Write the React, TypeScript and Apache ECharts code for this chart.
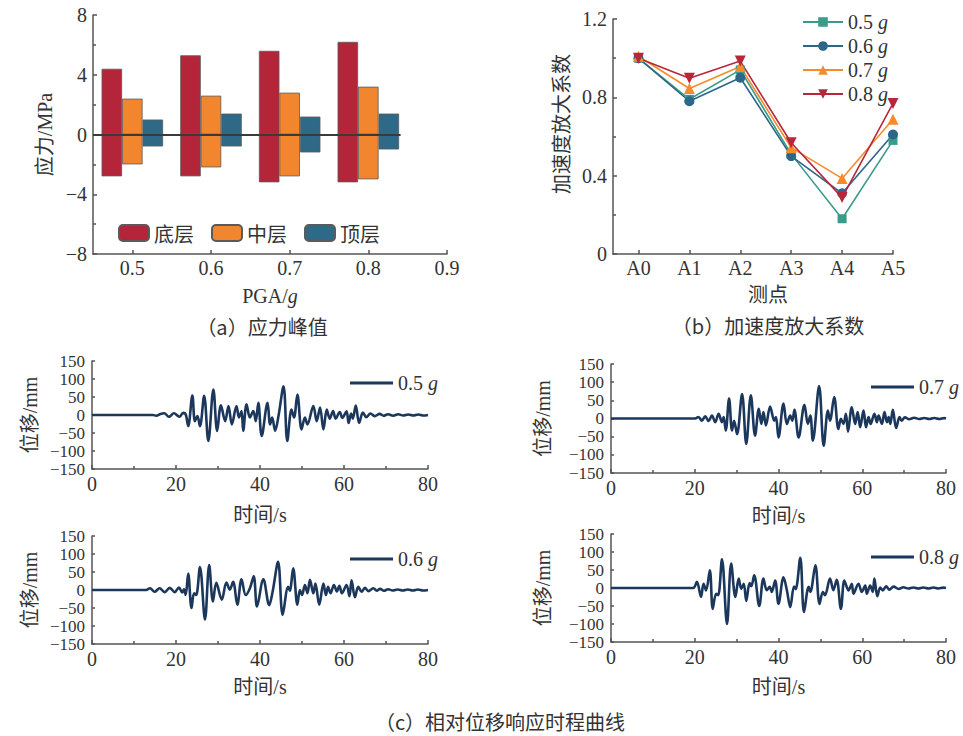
import React, { useEffect, useRef } from 'react';
import * as echarts from 'echarts';

// ---------- (a) stress peaks ----------
const pgaLevels = [0.5, 0.6, 0.7, 0.8];
const pgaTicks = [0.5, 0.6, 0.7, 0.8, 0.9];
const layerNames = ['底层', '中层', '顶层'];
const bottomMax = [4.4, 5.3, 5.6, 6.2];
const bottomMin = [-2.8, -2.8, -3.2, -3.2];
const middleMax = [2.4, 2.6, 2.8, 3.2];
const middleMin = [-2.0, -2.2, -2.8, -3.0];
const topMax = [1.0, 1.4, 1.2, 1.4];
const topMin = [-0.8, -0.8, -1.2, -1.0];

// ---------- (b) acceleration amplification ----------
const points = ['A0', 'A1', 'A2', 'A3', 'A4', 'A5'];
const amp05 = [1.0, 0.79, 0.94, 0.51, 0.18, 0.58];
const amp06 = [1.0, 0.78, 0.9, 0.5, 0.31, 0.61];
const amp07 = [1.01, 0.845, 0.957, 0.543, 0.386, 0.688];
const amp08 = [1.0, 0.897, 0.985, 0.568, 0.288, 0.769];

// ---------- (c) displacement time histories [t(s), mm] ----------
const disp05 = [
  [0, 0], [14.5, 0], [15.3, -2], [16.3, 3], [17.2, 5], [18.3, -5], [19.5, 5], [20.8, -5], [21.7, 6], [22.3, 2],
  [22.9, -31], [23.9, 54], [24.5, -17], [25.1, -3], [25.7, -31], [26.7, 53], [27.7, -72], [28.9, 71], [29.8, -44],
  [30.7, 27], [31.7, -17], [32.5, 25], [33.3, -26], [34.4, 25], [35.0, -7], [35.6, 11], [36.0, -44], [36.8, 30],
  [37.6, -7], [38.4, 11], [39.0, -17], [39.6, 34], [40.4, -58], [41.8, 34], [42.4, -26], [42.9, -7], [43.6, -44],
  [44.4, -3], [45.6, 80], [46.5, -72], [47.5, 15], [48.1, -7], [48.9, 57], [49.9, -40], [50.7, -7], [51.3, -26],
  [52.7, 25], [53.5, -17], [54.3, 21], [55.1, -40], [55.9, 15], [56.6, -10], [57.4, 11], [58.0, -10], [59.0, 8],
  [59.6, -8], [60.6, 10], [61.1, -22], [61.7, 4], [62.1, -10], [62.8, 26], [63.6, -22], [64.5, 7], [65.3, -6],
  [66.3, 4], [67.3, -3], [68.5, 3], [69.4, -2], [70.5, 2], [71.7, -2], [72.9, 2], [74.1, -1.5], [75.3, 1.5],
  [76.5, -1.5], [77.7, 1.5], [78.9, -1.5], [80, 0],
];
const disp06 = [
  [0, 0], [12.9, 0], [13.8, 5], [14.9, -5], [16.1, 5], [17.3, -6], [18.5, 6], [19.7, -6], [20.7, 7], [21.5, -7],
  [21.9, 2], [22.3, -14], [22.9, 46], [23.7, -50], [24.3, -9], [24.8, -14], [25.7, 64], [26.9, -82], [27.9, 69],
  [28.8, -32], [29.6, 20], [30.9, -27], [32.0, 21], [32.8, 1], [33.6, 23], [34.6, -41], [35.6, 30], [36.6, -14],
  [37.6, 5], [38.5, 38], [39.3, -46], [40.8, 30], [42.2, -42], [43.0, -5], [44.3, 78], [45.4, -69], [46.7, 9],
  [47.1, -2], [47.9, 60], [48.9, -41], [49.5, 0], [50.0, -14], [50.7, 14], [51.3, -9], [51.9, 28], [52.7, -9],
  [53.2, 18], [54.1, -41], [55.1, 18], [55.7, -14], [56.2, 9], [56.8, -9], [57.6, 14], [58.3, -4], [58.9, 12],
  [59.5, -9], [60.6, 14], [61.3, -17], [61.8, 27], [62.6, -20], [63.4, 9], [64.2, -5], [65.0, 6], [65.8, -3],
  [67.0, 5], [67.8, -2], [68.6, 3], [69.5, -2], [70.5, 2], [71.6, -1.5], [72.8, 1.5], [74.0, -1.5], [75.2, 1.5],
  [76.4, -1.5], [77.6, 1.5], [78.8, -1.5], [80, 0],
];
const disp07 = [
  [0, 0], [20.1, 0], [20.9, 4], [21.7, -6], [22.5, 6], [23.3, -7], [24.1, 8], [24.9, -10], [25.7, 13], [26.5, -10],
  [26.9, 4], [27.4, -33], [28.2, 55], [28.9, -33], [29.4, -6], [30.1, -43], [31.3, 67], [32.3, -70], [33.4, 64],
  [34.4, -47], [35.3, 27], [35.9, -15], [36.4, 18], [37.0, -19], [38.0, 33], [39.0, -6], [39.4, 4], [40.0, -52],
  [41.2, 41], [42.0, -15], [42.8, 8], [43.3, -6], [43.8, 24], [44.8, -52], [46.2, 38], [47.0, -15], [47.6, 8],
  [48.2, -61], [49.7, 89], [50.8, -75], [51.8, 22], [52.3, -6], [53.3, 59], [54.3, -29], [54.9, -1], [55.5, -15],
  [56.1, 13], [56.6, -36], [57.5, 31], [58.3, -15], [58.9, 18], [59.5, -24], [60.3, 22], [60.9, -24], [61.5, 4],
  [62.0, -15], [62.9, 13], [63.5, -10], [63.9, 8], [64.7, -15], [65.3, 18], [65.9, -10], [66.3, 4], [66.7, -15],
  [67.3, 24], [68.1, -26], [68.9, 4], [69.4, -6], [70.2, 3], [71.2, -2], [72.4, 2], [73.6, -1.5], [74.8, 1.5],
  [76.0, -1.5], [77.2, 1.5], [78.4, -1.5], [79.6, 1], [80, 0],
];
const disp08 = [
  [0, 0], [19.6, 0], [20.5, 17], [21.5, -25], [22.1, 12], [22.7, -7], [23.6, 49], [24.3, -58], [25.1, -16],
  [25.6, -20], [26.5, 80], [27.7, -100], [28.7, 68], [29.7, -25], [30.5, 26], [31.1, -2], [31.7, 12], [32.3, -36],
  [33.1, 14], [33.5, 5], [34.2, 35], [35.4, -50], [36.4, 26], [37.2, -6], [37.9, 3], [38.4, -11], [39.2, 21],
  [40.0, -44], [41.2, 30], [42.0, -6], [42.8, -53], [43.7, 4], [44.1, -3], [45.2, 84], [46.1, -67], [47.2, 3],
  [47.6, -11], [48.8, 63], [49.8, -44], [50.6, -11], [51.1, -20], [52.3, 26], [53.1, -6], [53.9, 23], [54.9, -58],
  [55.7, 21], [56.3, 3], [56.7, -6.5], [57.5, 12], [57.9, -16], [59.1, 12], [59.9, -11], [60.7, 7], [61.1, -16],
  [61.9, 7], [62.5, -11], [62.9, 26], [63.6, -23], [64.3, 1], [64.9, -6.5], [65.7, 4.6], [66.5, -4.6], [67.5, 3.7],
  [68.7, -2.8], [69.8, 2], [71.0, -1.5], [72.2, 1.5], [73.4, -1.5], [74.6, 1.5], [75.8, -1.5], [77.0, 1.5],
  [78.2, -1.5], [79.4, 1], [80, 0],
];

const SERIF = "'Liberation Serif', 'Times New Roman', 'Noto Sans CJK SC', serif";
const CJK = "'Noto Sans CJK SC', sans-serif";
const TXT = '#333';
const AXIS = { color: '#555', width: 1.5 };
const NAVY = '#1C375C';
const minus = (v: number) => String(v).replace('-', '\u2212');

const layerColors = ['#B5253A', '#F2862F', '#2E6A87'];
const ampColors = ['#3A9B8B', '#2D6787', '#F68B2C', '#B8263B'];

function timeAxes(gi: number, xGap: number, yGap: number) {
  const x = {
    type: 'value', gridIndex: gi, min: 0, max: 80, interval: 20,
    axisLine: { show: true, onZero: false, lineStyle: AXIS },
    axisTick: { show: true, inside: true, length: 4, lineStyle: AXIS },
    minorTick: { show: true, splitNumber: 2, length: 3, lineStyle: AXIS },
    axisLabel: { margin: 5, fontSize: 20, color: TXT, fontFamily: SERIF, showMinLabel: true, showMaxLabel: true },
    splitLine: { show: false },
    name: '时间/s', nameLocation: 'middle', nameGap: xGap,
    nameTextStyle: { fontSize: 20, color: TXT, fontFamily: SERIF },
  };
  const y = {
    type: 'value', gridIndex: gi, min: -150, max: 150, interval: 50,
    axisLine: { show: true, onZero: false, lineStyle: AXIS },
    axisTick: { show: true, inside: true, length: 3, lineStyle: AXIS },
    axisLabel: {
      margin: 7, fontSize: 17, lineHeight: 17, color: TXT, fontFamily: SERIF, formatter: minus,
      showMinLabel: true, showMaxLabel: true, hideOverlap: false,
    },
    splitLine: { show: false },
    name: '位移/mm', nameLocation: 'middle', nameGap: yGap,
    nameTextStyle: { fontSize: 20, color: TXT, fontFamily: SERIF },
  };
  return { x, y };
}

function buildOption() {
  const grids = [
    { left: 93, top: 15, width: 354, height: 239 },
    { left: 613, top: 19, width: 280, height: 235 },
    { left: 92, top: 361, width: 336, height: 108 },
    { left: 611, top: 364, width: 335, height: 109 },
    { left: 92, top: 536, width: 336, height: 108 },
    { left: 611, top: 534, width: 335, height: 108 },
  ];

  const xAxes: any[] = [];
  const yAxes: any[] = [];

  // (a)
  xAxes.push({
    type: 'value', gridIndex: 0, min: 0.45, max: 0.9,
    axisLine: { show: true, onZero: false, lineStyle: AXIS },
    axisTick: { show: true, inside: true, length: 4, customValues: pgaTicks, lineStyle: AXIS },
    axisLabel: { customValues: pgaTicks, formatter: (v: number) => v.toFixed(1), margin: 4, fontSize: 20, color: TXT, fontFamily: SERIF },
    splitLine: { show: false },
    name: 'PGA/{i|g}', nameLocation: 'middle', nameGap: 32,
    nameTextStyle: { fontSize: 20, color: TXT, fontFamily: SERIF, rich: { i: { fontSize: 20, fontStyle: 'italic', fontFamily: SERIF, color: TXT } } },
  });
  yAxes.push({
    type: 'value', gridIndex: 0, min: -8, max: 8, interval: 4,
    axisLine: { show: true, onZero: false, lineStyle: AXIS },
    axisTick: { show: true, inside: true, length: 4, lineStyle: AXIS },
    minorTick: { show: true, splitNumber: 2, length: 3, lineStyle: AXIS },
    axisLabel: { margin: 6, fontSize: 20, color: TXT, fontFamily: SERIF, formatter: minus },
    splitLine: { show: false },
    name: '应力/MPa', nameLocation: 'middle', nameGap: 38,
    nameTextStyle: { fontSize: 20, color: TXT, fontFamily: SERIF },
  });

  // (b)
  xAxes.push({
    type: 'value', gridIndex: 1, min: -0.5, max: 5,
    axisLine: { show: true, onZero: false, lineStyle: AXIS },
    axisTick: { show: true, inside: true, length: 4, customValues: [0, 1, 2, 3, 4, 5], lineStyle: AXIS },
    axisLabel: { customValues: [0, 1, 2, 3, 4, 5], formatter: (v: number) => points[Math.round(v)], margin: 4, fontSize: 20, color: TXT, fontFamily: SERIF },
    splitLine: { show: false },
  });
  yAxes.push({
    type: 'value', gridIndex: 1, min: 0, max: 1.2, interval: 0.4,
    axisLine: { show: true, onZero: false, lineStyle: AXIS },
    axisTick: { show: true, inside: true, length: 4, lineStyle: AXIS },
    minorTick: { show: true, splitNumber: 2, length: 3, lineStyle: AXIS },
    axisLabel: { margin: 6, fontSize: 20, color: TXT, fontFamily: SERIF, formatter: (v: number) => (v === 0 ? '0' : v.toFixed(1)) },
    splitLine: { show: false },
  });

  // (c)
  const c1 = timeAxes(2, 36, 52);
  const c2 = timeAxes(3, 33, 58);
  const c3 = timeAxes(4, 33, 52);
  const c4 = timeAxes(5, 35, 58);
  [c1, c2, c3, c4].forEach((c) => { xAxes.push(c.x); yAxes.push(c.y); });

  const series: any[] = [];
  const layerData = [[bottomMax, bottomMin], [middleMax, middleMin], [topMax, topMin]];
  layerData.forEach((pair, i) => {
    pair.forEach((arr, k) => {
      series.push({
        type: 'bar', name: layerNames[i], xAxisIndex: 0, yAxisIndex: 0,
        stack: 'layer' + i, barWidth: 20.5, barGap: '0%',
        itemStyle: { color: layerColors[i], borderColor: '#5a5a5a', borderWidth: 0.8 },
        data: pgaLevels.map((x, j) => [x, arr[j]]),
        ...(i === 1 && k === 1
          ? {
              markLine: {
                silent: true, symbol: 'none', label: { show: false }, z: 10,
                lineStyle: { color: '#3a3a3a', width: 2, type: 'solid' },
                data: [[{ coord: [0.45, 0] }, { coord: [0.841, 0] }]],
              },
            }
          : {}),
      });
    });
  });

  const ampSets = [amp05, amp06, amp07, amp08];
  const ampNames = ['b0.5', 'b0.6', 'b0.7', 'b0.8'];
  const ampSymbols = ['rect', 'circle', 'triangle', 'triangle'];
  const ampSizes = [9, 10, 11, 11];
  ampSets.forEach((arr, i) => {
    series.push({
      type: 'line', name: ampNames[i], xAxisIndex: 1, yAxisIndex: 1,
      symbol: ampSymbols[i], symbolSize: ampSizes[i], symbolRotate: i === 3 ? 180 : 0,
      showSymbol: true,
      lineStyle: { width: 1.6, color: ampColors[i] },
      itemStyle: { color: ampColors[i] },
      data: arr.map((v, k) => [k, v]),
    });
  });

  const dispSets = [disp05, disp07, disp06, disp08];
  const dispNames = ['c0.5', 'c0.7', 'c0.6', 'c0.8'];
  dispSets.forEach((arr, i) => {
    series.push({
      type: 'line', name: dispNames[i], xAxisIndex: 2 + i, yAxisIndex: 2 + i,
      symbol: 'none', showSymbol: false, smooth: 0.35,
      lineStyle: { width: 2.6, color: NAVY },
      itemStyle: { color: NAVY },
      data: arr,
    });
  });

  const gFmt = (n: string) => n.slice(1) + ' {g|g}';
  const legText = {
    fontSize: 20, color: TXT, fontFamily: SERIF, lineHeight: 22,
    rich: { g: { fontSize: 20, fontStyle: 'italic', fontFamily: SERIF, color: TXT, lineHeight: 22 } },
  };
  const cLegend = (name: string, left: number, top: number) => ({
    data: [name], left, top, padding: 0, itemWidth: 43, itemHeight: 3, icon: 'rect',
    formatter: gFmt, textStyle: legText, selectedMode: false, itemStyle: { color: NAVY },
  });

  const legends = [
    {
      data: layerNames, left: 118, top: 223, padding: 0, itemWidth: 30, itemHeight: 16, itemGap: 17,
      textStyle: { fontSize: 20, color: TXT, fontFamily: CJK }, selectedMode: false,
    },
    {
      data: ampNames, orient: 'vertical', left: 802, top: 11, padding: 0, itemWidth: 40, itemHeight: 12, itemGap: 2,
      formatter: gFmt, textStyle: legText, selectedMode: false,
    },
    cLegend('c0.5', 350, 372),
    cLegend('c0.7', 871, 376),
    cLegend('c0.6', 350, 548),
    cLegend('c0.8', 871, 546),
  ];

  const captionStyle = { fontSize: 20, fill: TXT, fontFamily: CJK, align: 'center', verticalAlign: 'middle' };
  const graphic = [
    { type: 'text', x: 262, y: 326, style: { ...captionStyle, text: '（a）应力峰值' } },
    { type: 'text', x: 768, y: 325, style: { ...captionStyle, text: '（b）加速度放大系数' } },
    { type: 'text', x: 500, y: 721, style: { ...captionStyle, text: '（c）相对位移响应时程曲线' } },
    { type: 'text', x: 768, y: 295, style: { ...captionStyle, fontFamily: SERIF, text: '测点' } },
    { type: 'text', x: 562, y: 124, rotation: Math.PI / 2, style: { ...captionStyle, fontFamily: SERIF, text: '加速度放大系数' } },
  ];

  return {
    animation: false,
    backgroundColor: '#fff',
    grid: grids,
    xAxis: xAxes,
    yAxis: yAxes,
    legend: legends,
    series,
    graphic,
  };
}

export default function App() {
  const ref = useRef<HTMLDivElement>(null);
  useEffect(() => {
    if (!ref.current) return;
    const chart = echarts.init(ref.current, null, { renderer: 'svg' });
    chart.setOption(buildOption() as any);
    return () => chart.dispose();
  }, []);
  return (
    <div
      ref={ref}
      style={{ position: 'fixed', left: 0, top: 0, width: 963, height: 736, background: '#fff' }}
    />
  );
}
